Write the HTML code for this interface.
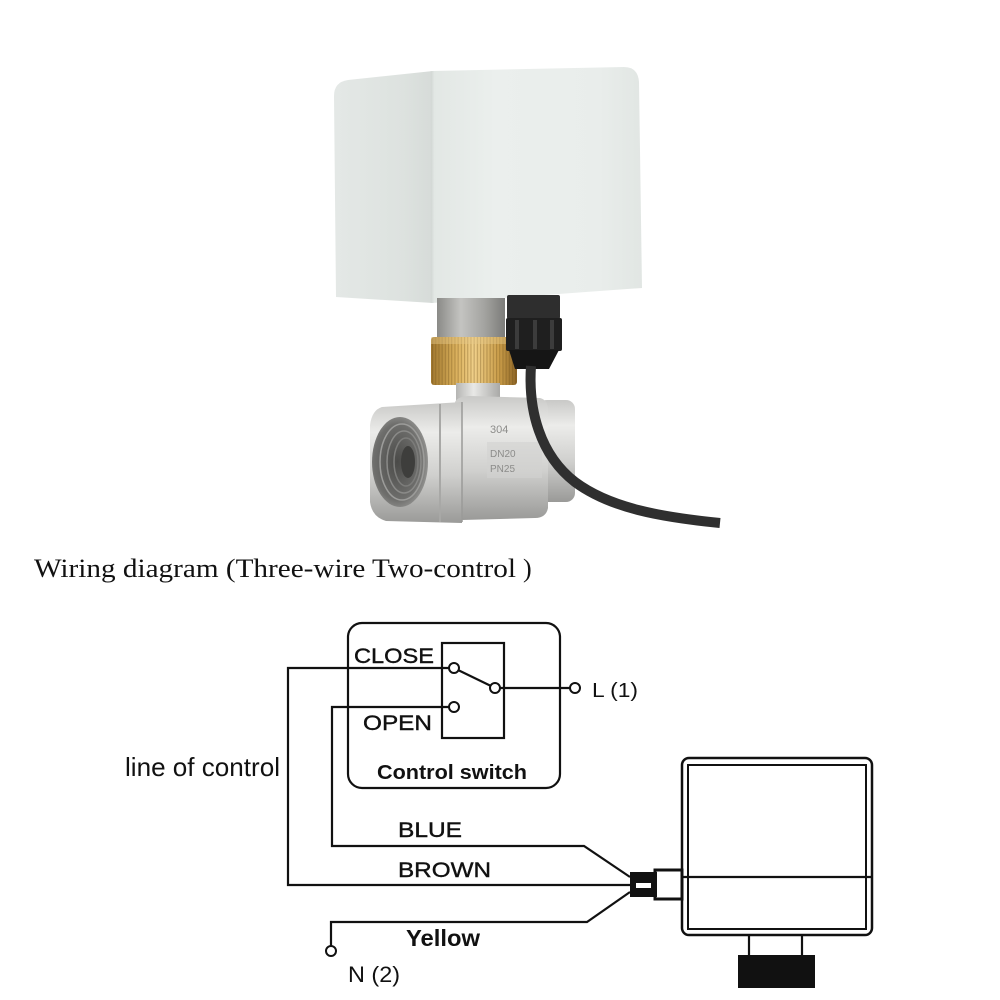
<!DOCTYPE html>
<html><head><meta charset="utf-8"><style>
html,body{margin:0;padding:0;background:#fff;}
svg{display:block;}
</style></head><body>
<svg width="1000" height="1000" viewBox="0 0 1000 1000" xmlns="http://www.w3.org/2000/svg">
<defs>
  <linearGradient id="front" x1="0" y1="0" x2="1" y2="0">
    <stop offset="0" stop-color="#e2e7e4"/>
    <stop offset="0.3" stop-color="#ebefed"/>
    <stop offset="0.8" stop-color="#e9edeb"/>
    <stop offset="1" stop-color="#e1e6e3"/>
  </linearGradient>
  <linearGradient id="side" x1="0" y1="0" x2="1" y2="0">
    <stop offset="0" stop-color="#e4e8e6"/>
    <stop offset="0.7" stop-color="#dde2df"/>
    <stop offset="1" stop-color="#d6dbd8"/>
  </linearGradient>
  <linearGradient id="brass" x1="0" y1="0" x2="1" y2="0">
    <stop offset="0" stop-color="#a0772e"/>
    <stop offset="0.3" stop-color="#dcb25e"/>
    <stop offset="0.5" stop-color="#f0d08a"/>
    <stop offset="0.8" stop-color="#c99c48"/>
    <stop offset="1" stop-color="#8c6426"/>
  </linearGradient>
  <linearGradient id="neck" x1="0" y1="0" x2="1" y2="0">
    <stop offset="0" stop-color="#8a8a87"/>
    <stop offset="0.35" stop-color="#c4c4c1"/>
    <stop offset="0.7" stop-color="#a3a3a0"/>
    <stop offset="1" stop-color="#7c7c79"/>
  </linearGradient>
  <linearGradient id="silverV" x1="0" y1="0" x2="0" y2="1">
    <stop offset="0" stop-color="#c9c9c7"/>
    <stop offset="0.25" stop-color="#ececea"/>
    <stop offset="0.6" stop-color="#d0d0ce"/>
    <stop offset="1" stop-color="#9a9a98"/>
  </linearGradient>
  <linearGradient id="silverH" x1="0" y1="0" x2="1" y2="0">
    <stop offset="0" stop-color="#b5b5b3"/>
    <stop offset="0.4" stop-color="#e8e8e6"/>
    <stop offset="1" stop-color="#a9a9a7"/>
  </linearGradient>
  <radialGradient id="hole" cx="0.45" cy="0.5" r="0.6">
    <stop offset="0" stop-color="#4a4a48"/>
    <stop offset="0.7" stop-color="#6e6e6c"/>
    <stop offset="1" stop-color="#a0a09e"/>
  </radialGradient>
  <pattern id="knurl" width="3.2" height="10" patternUnits="userSpaceOnUse">
    <rect width="1.1" height="10" fill="#6e4f1a" opacity="0.35"/>
  </pattern>
</defs>

<!-- ===== PHOTO ===== -->
<path d="M334,96 Q334,82 348,80 L433,71 L433,303 L336,297 Z" fill="url(#side)"/>
<path d="M432,71 L624,67 Q638,67 639,82 L642,288 L432,303 Z" fill="url(#front)"/>
<path d="M432,71 L432,303" stroke="#d4d9d6" stroke-width="3" opacity="0.6"/>

<rect x="437" y="298" width="68" height="42" fill="url(#neck)"/>
<rect x="431" y="337" width="86" height="48" rx="3" fill="url(#brass)"/>
<rect x="431" y="337" width="86" height="48" rx="3" fill="url(#knurl)"/>
<rect x="431" y="337" width="86" height="7" fill="#e6c98a" opacity="0.45"/>
<rect x="456" y="383" width="44" height="22" fill="url(#silverH)"/>

<rect x="538" y="400" width="37" height="102" rx="9" fill="url(#silverV)"/>
<path d="M455,402 Q458,396 470,396 L540,398 Q548,400 548,410 L548,508 Q546,518 535,518 L462,520 Z" fill="url(#silverV)"/>
<path d="M382,407 Q372,410 370,425 L370,502 Q372,517 386,521 L462,523 L462,402 Z" fill="url(#silverV)"/>
<path d="M440,404 L440,522" stroke="#a8a8a6" stroke-width="2"/>
<path d="M462,402 L462,522" stroke="#9a9a98" stroke-width="1.5"/>
<ellipse cx="400" cy="462" rx="28" ry="45" fill="url(#hole)"/>
<ellipse cx="402" cy="462" rx="22" ry="38" fill="none" stroke="#9c9c9a" stroke-width="1.5"/>
<ellipse cx="404" cy="462" rx="17" ry="31" fill="none" stroke="#8a8a88" stroke-width="1.5"/>
<ellipse cx="406" cy="462" rx="12" ry="24" fill="none" stroke="#7c7c7a" stroke-width="1.5"/>
<ellipse cx="408" cy="462" rx="7" ry="16" fill="#3e3e3c"/>
<text x="490" y="433" font-family="Liberation Sans, sans-serif" font-size="11" fill="#8c8c8a">304</text>
<rect x="487" y="442" width="55" height="36" fill="#d2d2d0" opacity="0.6"/>
<text x="490" y="457" font-family="Liberation Sans, sans-serif" font-size="10" fill="#8c8c8a">DN20</text>
<text x="490" y="472" font-family="Liberation Sans, sans-serif" font-size="10" fill="#8c8c8a">PN25</text>

<rect x="507" y="295" width="53" height="24" rx="2" fill="#2e2e2e"/>
<rect x="506" y="318" width="56" height="33" rx="2" fill="#1f1f1f"/>
<rect x="515" y="320" width="4" height="29" fill="#3c3c3c"/>
<rect x="533" y="320" width="4" height="29" fill="#3c3c3c"/>
<rect x="550" y="320" width="4" height="29" fill="#3c3c3c"/>
<path d="M509,350 L559,350 L549,369 L515,369 Z" fill="#151515"/>
<path d="M531,366 C528,410 540,455 575,482 C610,508 660,517 720,523" fill="none" stroke="#2f2f2f" stroke-width="10"/>

<!-- ===== TITLE ===== -->
<text x="34" y="577" font-family="Liberation Serif, serif" font-size="26" fill="#111" textLength="482" lengthAdjust="spacingAndGlyphs">Wiring diagram (Three-wire Two-control</text>
<text x="523" y="577" font-family="Liberation Serif, serif" font-size="26" fill="#111">)</text>

<!-- ===== DIAGRAM ===== -->
<g fill="none" stroke="#111" stroke-width="2.2">
  <rect x="348" y="623" width="212" height="165" rx="14"/>
  <rect x="442" y="643" width="62" height="95"/>
  <path d="M449,668 H288 V885 H630"/>
  <path d="M449,707 H332 V846 H584 L630,877"/>
  <path d="M331,946 V922 H587 L630,892"/>
  <path d="M458,670 L491,686"/>
  <path d="M500,688 H570"/>
</g>
<g fill="#fff" stroke="#111" stroke-width="2">
  <circle cx="454" cy="668" r="5"/>
  <circle cx="495" cy="688" r="5"/>
  <circle cx="454" cy="707" r="5"/>
  <circle cx="575" cy="688" r="5"/>
  <circle cx="331" cy="951" r="5"/>
</g>

<g fill="none" stroke="#111">
  <rect x="682" y="758" width="190" height="177" rx="7" stroke-width="2.5"/>
  <rect x="688" y="765" width="178" height="164" stroke-width="2"/>
  <path d="M682,877 H872" stroke-width="2.2"/>
  <path d="M749,935 V956 M802,935 V956" stroke-width="2.2"/>
  <rect x="655" y="870" width="27" height="29" fill="#fff" stroke-width="3"/>
</g>
<rect x="630" y="872" width="27" height="25" fill="#111"/>
<rect x="636" y="883" width="15" height="5" fill="#fff"/>
<rect x="738" y="955" width="77" height="33" fill="#111"/>

<g font-family="Liberation Sans, Arial, sans-serif" fill="#111">
  <text x="354" y="663" font-size="21" textLength="80" lengthAdjust="spacingAndGlyphs" stroke="#111" stroke-width="0.4">CLOSE</text>
  <text x="363" y="730" font-size="21" textLength="69" lengthAdjust="spacingAndGlyphs" stroke="#111" stroke-width="0.4">OPEN</text>
  <text x="377" y="779" font-size="20" font-weight="bold" textLength="150" lengthAdjust="spacingAndGlyphs">Control switch</text>
  <text x="592" y="697" font-size="20" textLength="46" lengthAdjust="spacingAndGlyphs">L (1)</text>
  <text x="125" y="776" font-size="26" textLength="155" lengthAdjust="spacingAndGlyphs">line of control</text>
  <text x="398" y="837" font-size="21" textLength="64" lengthAdjust="spacingAndGlyphs" stroke="#111" stroke-width="0.4">BLUE</text>
  <text x="398" y="877" font-size="21" textLength="93" lengthAdjust="spacingAndGlyphs" stroke="#111" stroke-width="0.4">BROWN</text>
  <text x="406" y="946" font-size="23" font-weight="bold" textLength="74" lengthAdjust="spacingAndGlyphs">Yellow</text>
  <text x="348" y="982" font-size="22" textLength="52" lengthAdjust="spacingAndGlyphs">N (2)</text>
</g>
</svg>
</body></html>
